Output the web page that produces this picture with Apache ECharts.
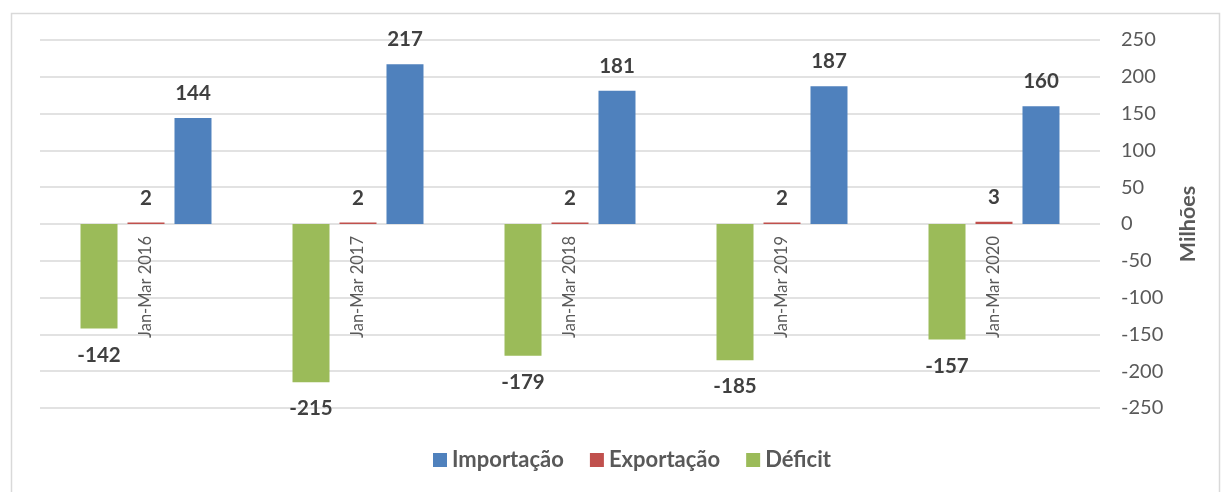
<!DOCTYPE html>
<html><head><meta charset="utf-8">
<script src="https://cdn.jsdelivr.net/npm/echarts@6/dist/echarts.min.js"></script>
<style>html,body{margin:0;padding:0;background:#fff}#c{width:1225px;height:492px}</style>
</head><body><div id="c"></div>
<script>
const categories = ['Jan-Mar 2016','Jan-Mar 2017','Jan-Mar 2018','Jan-Mar 2019','Jan-Mar 2020'];
const importacao = [144, 217, 181, 187, 160];
const exportacao = [2, 2, 2, 2, 3];
const deficit = [-142, -215, -179, -185, -157];
const yTicks = {min: -250, max: 250, interval: 50};

const FONT = 'Lato';
const labelStyle = {show: true, fontFamily: FONT, fontWeight: 'bold', fontSize: 20.5, color: '#404040', distance: 14};
const chart = echarts.init(document.getElementById('c'));
chart.setOption({
  animation: false,
  textStyle: {fontFamily: FONT},
  graphic: [{type: 'rect', left: 9, top: 11, shape: {width: 1208, height: 490}, style: {fill: 'none', stroke: '#d9d9d9', lineWidth: 1.5}, silent: true}],
  grid: {left: 40, right: 125, top: 40, bottom: 84, outerBoundsMode: 'none', containLabel: false},
  legend: {
    data: ['Importação', 'Exportação', 'Déficit'],
    bottom: 16, left: 428, icon: 'rect', itemWidth: 14, itemHeight: 14, itemGap: 26,
    textStyle: {fontFamily: FONT, fontWeight: 'bold', fontSize: 22, color: '#595959'}
  },
  xAxis: {
    type: 'category', data: categories, position: 'bottom', offset: -184,
    axisLine: {show: false, onZero: false},
    axisTick: {show: false},
    axisLabel: {rotate: 90, fontFamily: FONT, fontSize: 16.5, color: '#595959', margin: 12}
  },
  yAxis: {
    type: 'value', position: 'right', min: yTicks.min, max: yTicks.max, interval: yTicks.interval,
    name: 'Milhões', nameLocation: 'middle', nameRotate: 90, nameGap: 77,
    nameTextStyle: {fontFamily: FONT, fontWeight: 'bold', fontSize: 21.5, color: '#595959'},
    axisLine: {show: false}, axisTick: {show: false},
    axisLabel: {fontFamily: FONT, fontSize: 20, color: '#595959', margin: 21},
    splitLine: {lineStyle: {color: '#d9d9d9', width: 1.5}}
  },
  series: [
    {name: 'Déficit', type: 'bar', data: deficit, itemStyle: {color: '#9BBB59'}, barWidth: 37, barGap: '27%',
     label: Object.assign({}, labelStyle, {position: 'bottom', distance: 16})},
    {name: 'Exportação', type: 'bar', data: exportacao, itemStyle: {color: '#C0504D'}, barWidth: 37, barGap: '27%',
     label: Object.assign({}, labelStyle, {position: 'top'})},
    {name: 'Importação', type: 'bar', data: importacao, itemStyle: {color: '#4F81BD'}, barWidth: 37, barGap: '27%',
     label: Object.assign({}, labelStyle, {position: 'top'})}
  ]
});
</script></body></html>
